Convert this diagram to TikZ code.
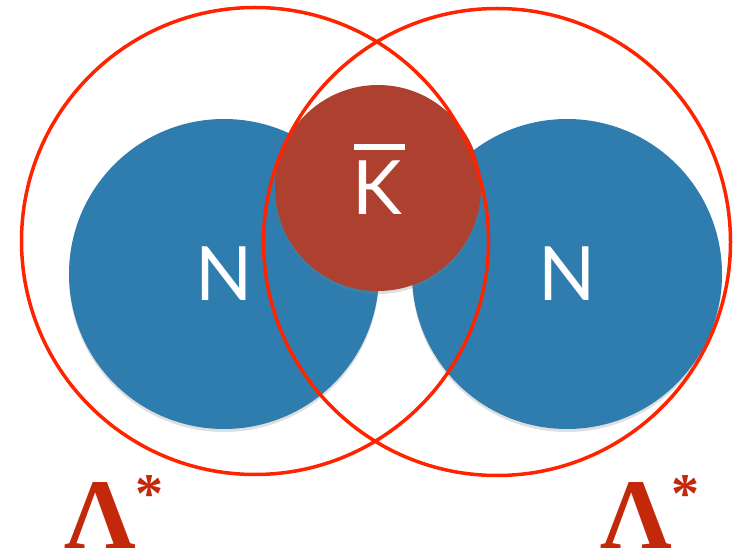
\documentclass[tikz,border=0pt]{standalone}
\usepackage{fontspec}
\setmainfont{Liberation Serif}
\newfontfamily\gillfont{Lato}
\usetikzlibrary{shadows}
\definecolor{nblue}{HTML}{2E7DAE}
\definecolor{kred}{HTML}{AE402F}
\definecolor{ringred}{HTML}{FF2400}
\definecolor{lamred}{HTML}{C4280A}
\begin{document}
\begin{tikzpicture}[x=1pt,y=-1pt,
  ball/.style={circle, inner sep=0pt, text=white,
    font=\gillfont\fontsize{75}{75}\selectfont,
    drop shadow={shadow xshift=0pt, shadow yshift=-3pt, opacity=0.25}},
  nucleon/.style={ball, fill=nblue, minimum size=310pt},
  kaon/.style={ball, fill=kred, minimum size=206pt},
  ringc/.style={circle, draw=ringred, line width=3.5pt, minimum size=467pt, inner sep=0pt},
  lambda/.style={text=lamred, inner sep=0pt, anchor=base west,
    font=\bfseries\fontsize{100}{100}\selectfont}
]
\useasboundingbox (0,0) rectangle (745,553);
\node[nucleon] (n1) at (224,274) {N};
\node[nucleon] (n2) at (567,274) {N};
\node[kaon] (k) at (378,188) {\raisebox{65pt}[0pt][0pt]{\rule{51pt}{6pt}}\hspace{-51pt}\hspace{-2pt}K};
\node[ringc] (r1) at (255,241) {};
\node[ringc] (r2) at (497,242) {};
\node[lambda] (l1) at (64,548) {Λ\raisebox{36pt}{\fontsize{56}{56}\selectfont *}};
\node[lambda] (l2) at (600,548) {Λ\raisebox{36pt}{\fontsize{56}{56}\selectfont *}};
\end{tikzpicture}
\end{document}
